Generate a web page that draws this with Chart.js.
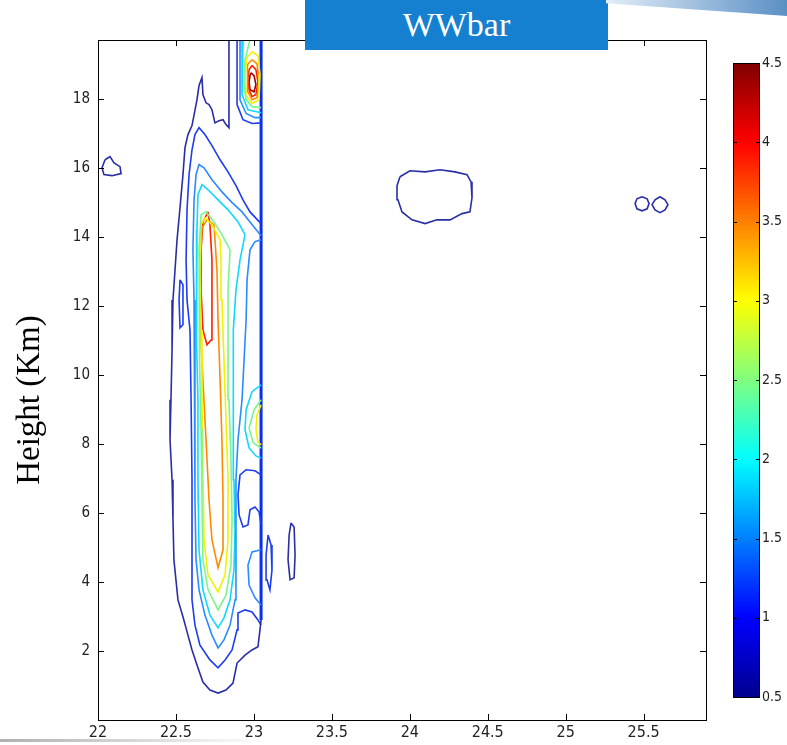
<!DOCTYPE html>
<html>
<head>
<meta charset="utf-8">
<script src="https://cdn.jsdelivr.net/npm/chart.js@4/dist/chart.umd.min.js"></script>
<style>
body{margin:0;background:#fff;width:787px;height:745px;overflow:hidden;position:relative;font-family:'Liberation Serif',serif}
#main{position:absolute;left:0;top:0}
#cbar{position:absolute;left:700px;top:0}
#ttl{position:absolute;left:305px;top:0;width:303px;height:50px;background:#1580d0;color:#fff;font:34px 'Liberation Serif',serif;line-height:50px;text-align:center}
#ylab{position:absolute;left:-120px;top:380px;width:300px;height:40px;line-height:40px;text-align:center;font:33px 'Liberation Serif',serif;color:#000;transform:rotate(-90deg)}
#deco{position:absolute;left:606px;top:0;width:181px;height:16px;background:linear-gradient(to right,#e3eef8,#5a90c4);clip-path:polygon(0 0,100% 0,100% 100%,0 20%)}
#deco2{position:absolute;left:0;top:739px;width:270px;height:3px;background:linear-gradient(to right,#b0b0b0,rgba(200,200,200,0))}
</style>
</head>
<body>
<canvas id="main" width="720" height="745"></canvas>
<canvas id="cbar" width="87" height="745"></canvas>
<div id="ttl">WWbar</div>
<div id="ylab">Height (Km)</div>
<div id="deco"></div>
<div id="deco2"></div>
<script>
// axis ticks
const xTicks=[22,22.5,23,23.5,24,24.5,25,25.5]
const yTicks=[2,4,6,8,10,12,14,16,18]
const cbarTicks=[0.5,1,1.5,2,2.5,3,3.5,4,4.5]

// contour levels and colours (jet)
const levels=[0.5,1,1.5,2,2.5,3,3.5,4,4.5]
const levelColours=['#2a2ea6','#1e3cf0','#2a8cff','#10d8ff','#7cf58c','#f2f200','#ff8a00','#ff2000','#9a0000']

// contour lines [x, y] (x = lat/lon deg, y = height km)
const c05Main=[[22.840,19.71],[22.840,17.16],[22.821,17.25],[22.802,17.39],[22.776,17.36],[22.750,17.30],[22.731,17.68],[22.712,17.83],[22.693,17.88],[22.673,18.12],[22.667,18.61],[22.648,18.38],[22.635,17.97],[22.603,17.22],[22.577,16.96],[22.558,16.58],[22.545,15.80],[22.526,14.84],[22.507,13.91],[22.494,13.04],[22.481,12.17],[22.475,10.72],[22.468,9.28],[22.462,8.12],[22.475,6.96],[22.481,5.80],[22.487,4.64],[22.513,3.48],[22.545,2.99],[22.577,2.46],[22.603,2.03],[22.635,1.59],[22.673,1.10],[22.718,0.87],[22.770,0.78],[22.821,0.87],[22.866,1.07],[22.892,1.65],[22.943,1.88],[22.988,2.03],[23.026,2.12],[23.039,2.61],[23.046,2.90]]
const c05Left=[[22.045,16.23],[22.077,16.32],[22.103,16.14],[22.141,16.03],[22.148,15.83],[22.090,15.77],[22.038,15.80],[22.026,16.00],[22.045,16.23]]
const c05Oval=[[23.937,15.74],[24.001,15.91],[24.098,15.88],[24.194,15.94],[24.290,15.88],[24.367,15.80],[24.393,15.59],[24.399,15.13],[24.386,14.72],[24.335,14.67],[24.258,14.49],[24.174,14.49],[24.098,14.38],[24.014,14.49],[23.950,14.72],[23.924,15.07],[23.918,15.48],[23.937,15.74]]
const c05RingA=[[25.490,15.16],[25.522,15.10],[25.535,14.96],[25.522,14.81],[25.490,14.75],[25.457,14.81],[25.445,14.96],[25.457,15.10],[25.490,15.16]]
const c05RingB=[[25.605,15.16],[25.637,15.07],[25.656,14.93],[25.637,14.78],[25.605,14.70],[25.573,14.78],[25.554,14.93],[25.573,15.07],[25.605,15.16]]
const c05Small=[[23.238,5.71],[23.258,5.59],[23.264,4.78],[23.258,4.12],[23.232,4.06],[23.219,4.64],[23.226,5.36],[23.238,5.71]]

const c10Main=[[23.046,14.38],[22.975,14.72],[22.930,15.07],[22.885,15.48],[22.834,15.88],[22.783,16.23],[22.731,16.64],[22.686,16.96],[22.648,17.16],[22.622,16.96],[22.603,16.52],[22.584,15.80],[22.571,14.78],[22.565,13.33],[22.571,12.17],[22.590,11.30],[22.597,9.28],[22.603,6.96],[22.603,4.93],[22.603,3.48],[22.622,2.75],[22.654,2.17],[22.718,1.74],[22.770,1.51],[22.815,1.74],[22.860,2.03],[22.892,2.61],[22.898,3.10],[22.943,3.19],[22.988,3.13],[23.026,2.90],[23.046,2.75]]
const c10Top=[[22.892,19.71],[22.892,17.83],[22.930,17.39],[22.988,17.28],[23.046,17.30]]
const c10Edge=[[23.046,19.71],[23.046,2.90]]
const c10Isle=[[23.046,7.10],[23.007,7.22],[22.950,7.25],[22.911,7.10],[22.898,6.52],[22.905,5.94],[22.930,5.59],[22.962,5.65],[22.975,6.09],[23.007,6.17],[23.033,6.03],[23.046,5.65]]
const c10Left=[[22.526,12.75],[22.545,12.61],[22.545,11.45],[22.526,11.36],[22.520,12.17],[22.526,12.75]]
const c10Small=[[23.091,5.36],[23.110,5.07],[23.116,4.35],[23.103,3.77],[23.084,4.06],[23.078,4.78],[23.091,5.36]]

const c15Main=[[23.046,14.03],[22.975,14.43],[22.924,14.72],[22.860,14.99],[22.795,15.30],[22.731,15.65],[22.680,16.00],[22.648,16.09],[22.629,15.80],[22.616,15.07],[22.609,13.62],[22.616,12.17],[22.622,10.72],[22.622,8.70],[22.622,6.38],[22.629,4.64],[22.648,3.77],[22.686,3.04],[22.731,2.46],[22.770,2.09],[22.808,2.32],[22.847,2.75],[22.879,3.48],[22.885,4.35],[22.885,5.51],[22.885,6.96],[22.898,8.12],[22.924,9.28],[22.937,10.43],[22.950,11.59],[22.956,12.75],[22.975,13.62],[23.007,13.86],[23.046,13.91]]
const c15Top=[[22.911,19.71],[22.911,17.97],[22.950,17.57],[23.007,17.45],[23.046,17.45]]
const c15Isle=[[23.046,4.93],[22.988,4.87],[22.962,4.49],[22.969,3.91],[23.007,3.54],[23.046,3.33]]

const c20Main=[[22.943,14.06],[22.898,14.43],[22.834,14.78],[22.770,15.07],[22.706,15.36],[22.667,15.51],[22.641,15.22],[22.635,14.20],[22.629,12.75],[22.635,11.01],[22.641,9.28],[22.641,6.96],[22.648,4.93],[22.673,3.77],[22.718,3.04],[22.770,2.67],[22.808,2.96],[22.847,3.48],[22.872,4.35],[22.879,5.51],[22.872,6.96],[22.866,8.41],[22.866,9.86],[22.872,11.30],[22.885,12.46],[22.911,13.33],[22.943,14.06]]
const c20Top=[[22.930,19.71],[22.924,18.12],[22.962,17.68],[23.046,17.59]]
const c20Isle=[[23.046,9.71],[22.988,9.51],[22.950,8.99],[22.943,8.41],[22.969,7.88],[23.013,7.65],[23.046,7.59]]

const c25Main=[[22.847,13.62],[22.795,14.06],[22.744,14.43],[22.693,14.72],[22.661,14.64],[22.648,13.62],[22.648,12.17],[22.654,10.43],[22.661,8.41],[22.667,6.38],[22.673,4.64],[22.706,3.77],[22.770,3.19],[22.821,3.62],[22.853,4.49],[22.860,5.80],[22.853,7.54],[22.840,9.28],[22.834,11.01],[22.834,12.46],[22.847,13.62]]
const c25Top=[[22.975,19.71],[22.943,19.13],[22.937,18.41],[22.950,17.97],[22.988,17.77],[23.046,17.74]]
const c25Isle=[[23.046,9.28],[23.001,8.99],[22.969,8.46],[22.995,8.03],[23.046,7.88]]

const c30Main=[[22.783,13.91],[22.731,14.35],[22.686,14.55],[22.661,14.35],[22.654,13.04],[22.661,11.30],[22.667,9.28],[22.673,7.25],[22.680,5.22],[22.706,4.20],[22.770,3.71],[22.815,4.20],[22.834,5.22],[22.834,6.96],[22.821,8.70],[22.808,10.43],[22.795,12.17],[22.789,13.33],[22.783,13.91]]
const c30Top=[[22.988,19.36],[23.026,19.25],[23.039,18.70],[23.033,17.97],[22.988,17.86],[22.950,18.09],[22.943,18.70],[22.956,19.19],[22.988,19.36]]
const c30Isle=[[23.046,9.13],[23.020,8.84],[23.013,8.41],[23.026,8.06],[23.046,7.97]]

const c35Main=[[22.744,14.35],[22.699,14.49],[22.667,14.26],[22.654,13.33],[22.654,11.59],[22.673,9.86],[22.693,8.12],[22.712,6.38],[22.731,5.22],[22.770,4.41],[22.802,4.93],[22.802,6.38],[22.795,8.12],[22.783,9.86],[22.770,11.59],[22.763,13.04],[22.744,14.35]]
const c35Top=[[22.988,19.13],[23.020,19.01],[23.033,18.55],[23.020,18.03],[22.988,17.97],[22.962,18.20],[22.956,18.70],[22.962,18.99],[22.988,19.13]]

const c40Main=[[22.706,14.72],[22.673,14.43],[22.661,13.62],[22.661,12.46],[22.673,11.30],[22.699,10.87],[22.725,11.01],[22.731,12.17],[22.731,13.33],[22.718,14.35],[22.706,14.72]]
const c40Top=[[22.988,18.96],[23.013,18.84],[23.026,18.49],[23.013,18.12],[22.988,18.06],[22.969,18.26],[22.962,18.61],[22.969,18.84],[22.988,18.96]]

const c45Top=[[22.982,18.75],[23.001,18.67],[23.013,18.41],[23.001,18.20],[22.975,18.26],[22.969,18.49],[22.975,18.67],[22.982,18.75]]

const contourSets=[
 [0.5,[c05Main,c05Left,c05Oval,c05RingA,c05RingB,c05Small]],
 [1,[c10Main,c10Top,c10Isle,c10Left,c10Small]],
 [1.5,[c15Main,c15Top,c15Isle]],
 [2,[c20Main,c20Top,c20Isle]],
 [2.5,[c25Main,c25Top,c25Isle]],
 [3,[c30Main,c30Top,c30Isle]],
 [3.5,[c35Main,c35Top]],
 [4,[c40Main,c40Top]],
 [4.5,[c45Top]]
]

const tickFont={family:"'DejaVu Sans Condensed','Liberation Sans Narrow','Liberation Sans',Arial,sans-serif",size:15}
const plainLabel=v=>String(v)

function colourFor(v){return levelColours[levels.indexOf(v)]}

let datasets=[]
contourSets.forEach(([lv,lines])=>{
 lines.forEach(l=>{
  datasets.push({data:l.map(p=>({x:p[0],y:p[1]})),borderColor:colourFor(lv),borderWidth:1.6,showLine:true,pointRadius:0,fill:false,tension:0})
 })
})
// the data edge, where all the levels pile up
datasets.push({data:c10Edge.map(p=>({x:p[0],y:p[1]})),borderColor:'#0a2ef0',borderWidth:3,showLine:true,pointRadius:0,fill:false})

// inward ticks + box, matlab style
const boxTicks={
 id:'boxTicks',
 afterDraw(chart){
  const ctx=chart.ctx, a=chart.chartArea
  ctx.save()
  ctx.strokeStyle='#000';ctx.lineWidth=1
  ctx.strokeRect(a.left+0.5,a.top+0.5,a.right-a.left,a.bottom-a.top)
  ctx.beginPath()
  xTicks.forEach(t=>{
   const px=Math.round(chart.scales.x.getPixelForValue(t))+0.5
   ctx.moveTo(px,a.bottom);ctx.lineTo(px,a.bottom-6)
   ctx.moveTo(px,a.top);ctx.lineTo(px,a.top+6)
  })
  yTicks.forEach(t=>{
   const py=Math.round(chart.scales.y.getPixelForValue(t))+0.5
   ctx.moveTo(a.left,py);ctx.lineTo(a.left+6,py)
   ctx.moveTo(a.right,py);ctx.lineTo(a.right-6,py)
  })
  ctx.stroke()
  ctx.restore()
 }
}

new Chart(document.getElementById('main'),{
 type:'scatter',
 data:{datasets:datasets},
 options:{
  responsive:false,animation:false,
  layout:{padding:{left:0,top:40,right:14,bottom:0}},
  plugins:{legend:{display:false},tooltip:{enabled:false},title:{display:false}},
  scales:{
   x:{type:'linear',min:22,max:25.9,
    afterBuildTicks:s=>{s.ticks=xTicks.map(v=>({value:v}))},
    afterFit:s=>{s.height=25},
    ticks:{font:{...tickFont,size:16},color:'#222',padding:3,maxRotation:0,autoSkip:false,callback:plainLabel},
    grid:{display:false,drawTicks:false},border:{display:false}},
   y:{type:'linear',min:0,max:19.7,
    afterBuildTicks:s=>{s.ticks=yTicks.map(v=>({value:v}))},
    afterFit:s=>{s.width=98},
    ticks:{font:tickFont,color:'#222',padding:8,callback:plainLabel},
    grid:{display:false,drawTicks:false},border:{display:false}}
  }
 },
 plugins:[boxTicks]
})

// colour bar
const cbarTicksPlugin={
 id:'cbarTicks',
 afterDraw(chart){
  const ctx=chart.ctx, a=chart.chartArea
  ctx.save()
  ctx.strokeStyle='#000';ctx.lineWidth=1
  ctx.strokeRect(a.left+0.5,a.top+0.5,a.right-a.left-1,a.bottom-a.top)
  ctx.beginPath()
  cbarTicks.forEach(t=>{
   const py=Math.round(chart.scales.y.getPixelForValue(t))+0.5
   ctx.moveTo(a.left,py);ctx.lineTo(a.left+4,py)
   ctx.moveTo(a.right,py);ctx.lineTo(a.right-4,py)
  })
  ctx.stroke()
  ctx.restore()
 }
}

new Chart(document.getElementById('cbar'),{
 type:'bar',
 data:{labels:[''],datasets:[{data:[[levels[0],levels[levels.length-1]]],barPercentage:1,categoryPercentage:1,borderWidth:0,
  backgroundColor:c=>{
   const a=c.chart.chartArea
   if(!a) return '#888'
   const g=c.chart.ctx.createLinearGradient(0,a.bottom,0,a.top)
   g.addColorStop(0,'#00008f');g.addColorStop(0.125,'#0000ff');g.addColorStop(0.375,'#00ffff')
   g.addColorStop(0.625,'#ffff00');g.addColorStop(0.875,'#ff0000');g.addColorStop(1,'#800000')
   return g
  }}]},
 options:{
  responsive:false,animation:false,
  layout:{padding:{left:33,top:63,right:0,bottom:48}},
  plugins:{legend:{display:false},tooltip:{enabled:false}},
  scales:{
   x:{display:false},
   y:{position:'right',min:0.5,max:4.5,
    afterBuildTicks:s=>{s.ticks=cbarTicks.map(v=>({value:v}))},
    afterFit:s=>{s.width=27},
    ticks:{font:{...tickFont,size:14},color:'#222',padding:2,callback:plainLabel},
    grid:{display:false,drawTicks:false},border:{display:false}}
  }
 },
 plugins:[cbarTicksPlugin]
})
</script>
</body>
</html>
